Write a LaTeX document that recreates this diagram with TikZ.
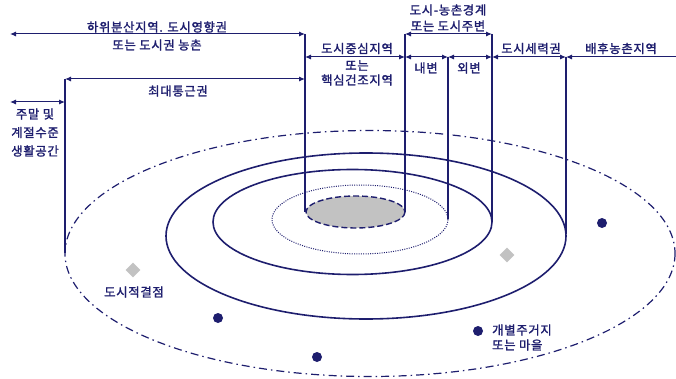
\documentclass[tikz,border=0pt]{standalone}
\usepackage{fontspec}
\setmainfont{Noto Sans CJK KR}[FakeBold=1.6,LetterSpace=6]
\usetikzlibrary{arrows.meta,shapes.geometric}
\definecolor{navy}{HTML}{1E1E6E}
\definecolor{lgray}{HTML}{C2C2C2}
\begin{document}
\begin{tikzpicture}[x=1pt,y=-1pt,
  lbl/.style={text=navy,font=\fontsize{12.3}{13}\selectfont,inner sep=0pt},
  dim/.style={draw=navy,line width=1pt,{Latex[length=6pt,width=5pt]}-{Latex[length=6pt,width=5pt]}},
  ldim/.style={draw=navy,line width=1pt,{Latex[length=6pt,width=5pt]}-},
  vline/.style={draw=navy,line width=1.2pt},
  ring/.style={draw=navy,line width=1.6pt},
  village/.style={circle,fill=navy,minimum size=10pt,inner sep=0pt},
  node1/.style={diamond,fill=lgray,minimum size=15pt,inner sep=0pt}]
\useasboundingbox (0,0) rectangle (676,379);
% ellipses
\draw[draw=navy,line width=1.2pt,dash pattern=on 8pt off 4pt on 1.5pt off 4pt] (370,253.5) ellipse [x radius=305,y radius=123];
\draw[ring] (366,236) ellipse [x radius=200,y radius=83];
\draw[ring] (352.5,222) ellipse [x radius=139.5,y radius=52.5];
\draw[draw=navy,line width=1pt,dash pattern=on 1pt off 1.3pt] (360,219.5) ellipse [x radius=88,y radius=34.5];
\draw[draw=navy,line width=1.4pt,fill=lgray,dash pattern=on 6pt off 3pt] (355.5,212) ellipse [x radius=49.5,y radius=16];
% coordinates
\coordinate (l0) at (10,34);
\coordinate (t305) at (305,34);
\coordinate (b305) at (305,212);
\coordinate (t65) at (65,79);
\coordinate (b65) at (65,253);
\coordinate (t405) at (405,34);
\coordinate (b405) at (405,212);
\coordinate (t448) at (448,57);
\coordinate (b448) at (448,219);
\coordinate (t492) at (492,34);
\coordinate (b492) at (492,222);
\coordinate (t566) at (566,57);
\coordinate (b566) at (566,234);
\coordinate (r2) at (676,57);
\coordinate (l4) at (10,102);
\coordinate (r3) at (305,79);
\coordinate (r4) at (65,102);
\coordinate (a1) at (305,57);
\coordinate (a2) at (405,57);
\coordinate (a3) at (492,57);
% verticals
\draw[vline] (t305) -- (b305);
\draw[vline] (t65) -- (b65);
\draw[vline] (t405) -- (b405);
\draw[vline] (t448) -- (b448);
\draw[vline] (t492) -- (b492);
\draw[vline] (t566) -- (b566);
% dimension arrows
\draw[dim] (l0) -- (t305);
\draw[dim] (t405) -- (t492);
\draw[dim] (t65) -- (r3);
\draw[dim] (l4) -- (r4);
\draw[dim] (a1) -- (a2);
\draw[dim] (a2) -- (t448);
\draw[dim] (t448) -- (a3);
\draw[dim] (a3) -- (t566);
\draw[ldim] (t566) -- (r2);
% labels
\node[lbl] (n1) at (157,27) {하위분산지역. 도시영향권};
\node[lbl] (n2) at (157,45) {또는 도시권 농촌};
\node[lbl] (n3) at (178,91) {최대통근권};
\node[lbl] (n4) at (35,114) {주말 및};
\node[lbl] (n5) at (35,132.5) {계절수준};
\node[lbl] (n6) at (35,151) {생활공간};
\node[lbl] (n7) at (448,10) {도시-농촌경계};
\node[lbl] (n8) at (448,26) {또는 도시주변};
\node[lbl] (n9) at (357,48.5) {도시중심지역};
\node[lbl] (n10) at (357,65.5) {또는};
\node[lbl] (n11) at (357,80) {핵심건조지역};
\node[lbl] (n12) at (426,68) {내변};
\node[lbl] (n13) at (469,68) {외변};
\node[lbl] (n14) at (531,48.5) {도시세력권};
\node[lbl] (n15) at (621,48.5) {배후농촌지역};
\node[lbl] (n16) at (134,292) {도시적결점};
\node[lbl,anchor=west] (n17) at (492,330) {개별주거지};
\node[lbl,anchor=west] (n18) at (492,345) {또는 마을};
% symbols
\node[node1] (d1) at (133,270) {};
\node[node1] (d2) at (507,255) {};
\node[village] (v1) at (218,318) {};
\node[village] (v2) at (317,357) {};
\node[village] (v3) at (602,223) {};
\node[village] (v4) at (478,331) {};
\end{tikzpicture}
\end{document}
